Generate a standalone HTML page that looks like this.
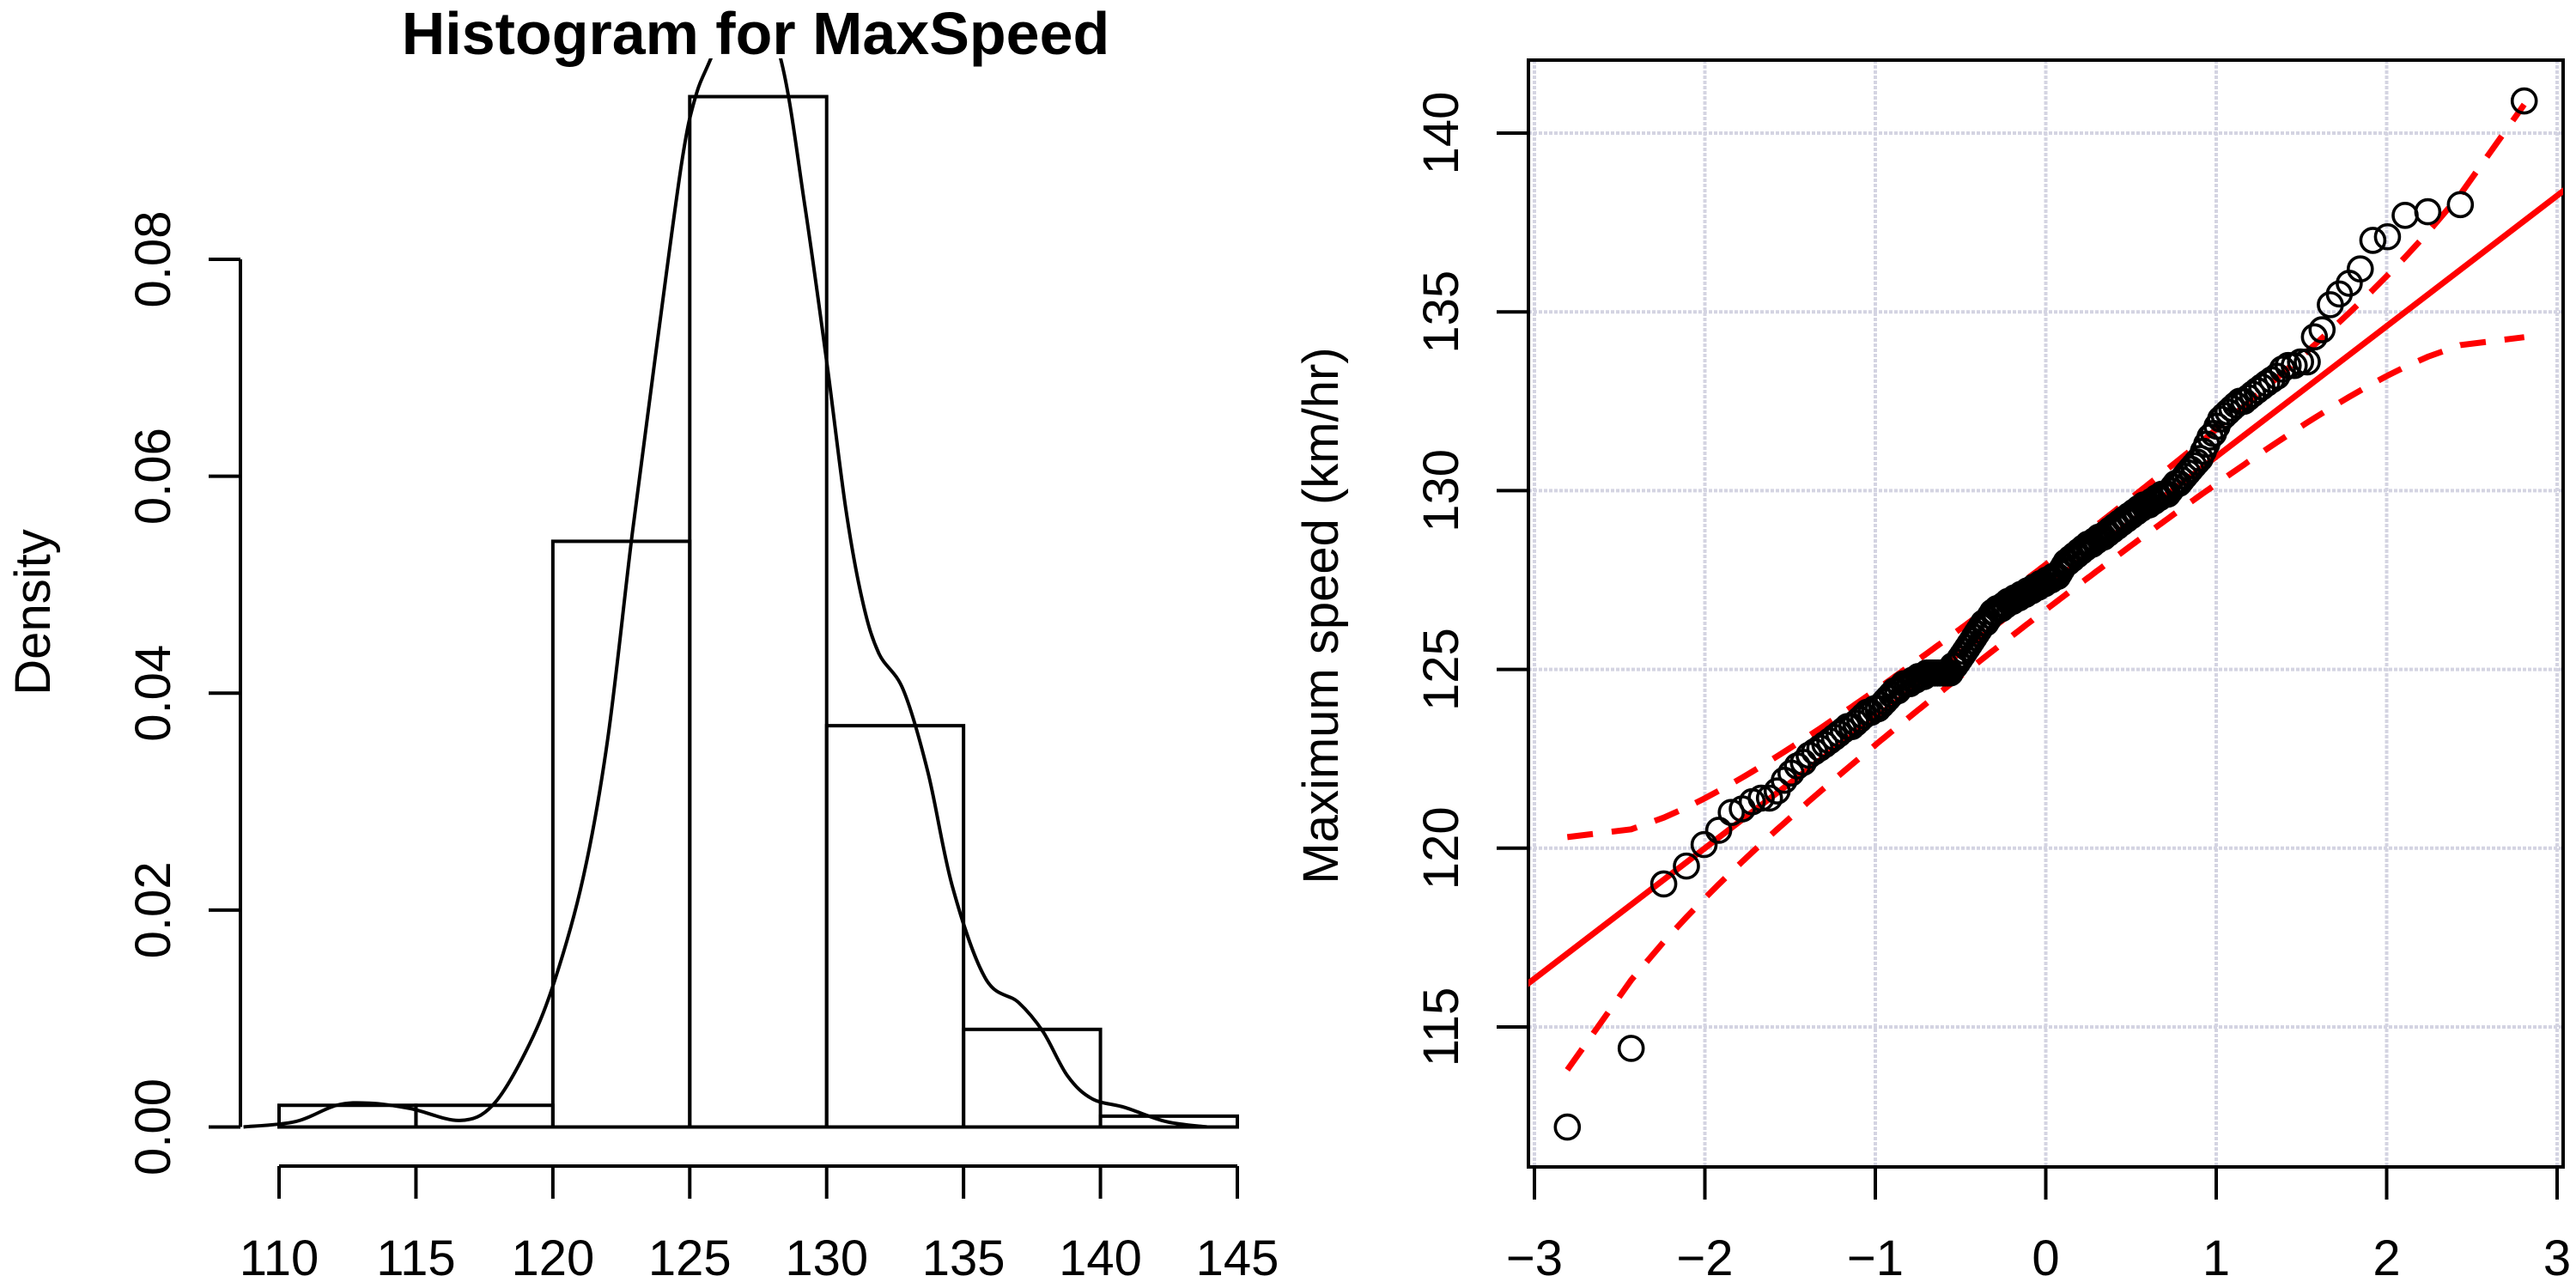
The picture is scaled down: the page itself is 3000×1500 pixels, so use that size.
<!DOCTYPE html>
<html><head><meta charset="utf-8"><style>
html,body{margin:0;padding:0;background:#fff;}
svg{display:block;font-family:"Liberation Sans",Arial,sans-serif;}
</style></head><body>
<svg id="chart" width="3000" height="1500" viewBox="0 0 3000 1500" xmlns="http://www.w3.org/2000/svg">
<defs>
<clipPath id="clipL"><rect x="280" y="68" width="1205" height="1291"/></clipPath>
<clipPath id="clipR"><rect x="1780" y="70" width="1205" height="1289"/></clipPath>
</defs>
<rect width="3000" height="1500" fill="#fff"/>
<g id="left"></g>
<g id="right"></g>
</svg>
<script>
// ---------- Histogram data ----------
const binEdges = [110,115,120,125,130,135,140,145];
const binDensity = [0.002,0.002,0.054,0.095,0.037,0.009,0.001];
const densX = [108.7,110.6,112.1,113.3,114.8,116.6,117.8,119.0,120.0,121.1,122.0,122.9,123.8,124.7,125.2,125.8,127.0,128.3,129.2,130.0,130.7,131.3,131.9,132.8,133.7,134.6,135.8,137.0,137.9,138.8,139.7,140.9,142.4,143.9];
const densY = [0,0.0005,0.002,0.0022,0.0017,0.0006,0.002,0.0069,0.013,0.0229,0.0357,0.0547,0.0721,0.0888,0.0949,0.0987,0.106,0.0987,0.085,0.0706,0.057,0.0486,0.0437,0.0403,0.0327,0.0221,0.0137,0.0115,0.0088,0.0047,0.0026,0.0018,0.0005,0];
const histXTicks = [110,115,120,125,130,135,140,145];
const histYTicks = [0,0.02,0.04,0.06,0.08];
const histYTickLabels = ["0.00","0.02","0.04","0.06","0.08"];

// ---------- QQ data (sorted max speeds, n=200) ----------
const speeds = [112.2,114.4,119.0,119.5,
120.1,120.5,121.0,121.1,121.3,121.4,121.4,121.6,121.9,122.1,122.3,122.4,122.6,122.7,122.8,122.9,123.0,123.1,123.2,123.3,123.4,123.4,123.5,123.6,123.7,123.8,123.8,123.9,123.9,124.0,124.1,124.2,124.3,124.4,124.4,124.5,124.6,124.6,124.6,124.7,124.7,124.8,124.8,124.8,124.9,124.9,124.9,124.9,124.9,124.9,124.9,124.9,124.9,124.9,
125.1,125.1,125.2,125.3,
125.4,125.5,125.6,125.7,125.8,125.9,126.0,
126.1,126.2,126.3,126.3,126.4,126.5,126.6,
126.6,126.7,126.7,126.7,126.8,126.8,126.9,126.9,
126.9,127.0,127.0,127.0,127.1,127.1,127.1,
127.2,127.2,127.2,127.3,127.3,127.3,127.4,127.4,
127.4,127.5,127.5,127.5,127.6,127.6,127.6,
127.7,127.8,127.9,128.0,128.0,128.1,128.1,128.2,
128.2,128.3,128.3,128.4,128.4,128.5,128.5,
128.5,128.6,128.6,128.7,128.7,128.7,128.8,128.8,
128.9,128.9,129.0,129.0,129.1,129.1,129.2,
129.2,129.3,129.3,129.4,129.4,129.5,129.5,129.6,
129.6,129.6,129.7,129.7,129.8,129.8,129.9,129.9,129.9,
130.0,130.1,130.2,130.2,130.3,130.4,130.5,130.6,130.7,130.8,130.9,131.1,131.3,131.5,131.6,131.8,132.0,132.1,132.2,132.3,132.4,132.5,132.5,132.6,132.7,132.8,132.9,133.0,133.1,133.2,133.4,133.5,133.5,133.6,133.6,134.3,134.5,
135.2,135.5,135.8,136.2,137.0,137.1,137.7,137.8,138.0,140.9];
const lineIntercept = 127.3;
const lineSlope = 3.65;
const qqXTicks = [-3,-2,-1,0,1,2,3];
const qqXTickLabels = ["\u22123","\u22122","\u22121","0","1","2","3"];
const qqYTicks = [115,120,125,130,135,140];

const NS = "http://www.w3.org/2000/svg";
function mk(parent, tag, attrs){ const e=document.createElementNS(NS,tag); for(const k in attrs) e.setAttribute(k,attrs[k]); parent.appendChild(e); return e; }
const FS = 58, LW = 4;

// ---------- Left panel ----------
const L = document.getElementById('left');
const hx = v => 325 + (v-110)*(1441-325)/35;
const hy = v => 1312.5 - v*(1312.5-302)/0.08;

const title = mk(L,'text',{x:880,y:63,'text-anchor':'middle','font-size':70,'font-weight':'bold',fill:'#000'});


title.textContent = 'Histogram for MaxSpeed';

for(let i=0;i<binDensity.length;i++){
  const r = mk(L,'rect',{x:hx(binEdges[i]),y:hy(binDensity[i]),width:hx(binEdges[i+1])-hx(binEdges[i]),height:hy(0)-hy(binDensity[i]),fill:'none',stroke:'#000','stroke-width':LW});
  
  
}
function smooth(xs, ys){ const P=xs.map((x,i)=>[hx(x),hy(ys[i])]); let d='M'+P[0][0]+','+P[0][1];
  for(let i=0;i<P.length-1;i++){const p0=P[Math.max(0,i-1)],p1=P[i],p2=P[i+1],p3=P[Math.min(P.length-1,i+2)];
    d+=' C'+(p1[0]+(p2[0]-p0[0])/6).toFixed(1)+','+(p1[1]+(p2[1]-p0[1])/6).toFixed(1)+' '+(p2[0]-(p3[0]-p1[0])/6).toFixed(1)+','+(p2[1]-(p3[1]-p1[1])/6).toFixed(1)+' '+p2[0].toFixed(1)+','+p2[1].toFixed(1);}
  return d;}
const dens = mk(L,'path',{d:smooth(densX,densY),fill:'none',stroke:'#000','stroke-width':LW,'clip-path':'url(#clipL)'});



const yax = mk(L,'g',{});


mk(yax,'line',{x1:280,x2:280,y1:hy(0),y2:hy(0.08),stroke:'#000','stroke-width':LW});
histYTicks.forEach((v,i)=>{
  mk(yax,'line',{x1:280,x2:243,y1:hy(v),y2:hy(v),stroke:'#000','stroke-width':LW});
  const t = mk(yax,'text',{x:0,y:0,transform:`translate(198,${hy(v)}) rotate(-90)`,'text-anchor':'middle','font-size':FS});
  
  
  t.textContent = histYTickLabels[i];
});
const dl = mk(L,'text',{x:0,y:0,transform:'translate(58,713) rotate(-90)','text-anchor':'middle','font-size':FS});


dl.textContent='Density';

const xax = mk(L,'g',{});


mk(xax,'line',{x1:hx(110),x2:hx(145),y1:1358,y2:1358,stroke:'#000','stroke-width':LW});
histXTicks.forEach(v=>{
  mk(xax,'line',{x1:hx(v),x2:hx(v),y1:1358,y2:1396,stroke:'#000','stroke-width':LW});
  const t = mk(xax,'text',{x:hx(v),y:1485,'text-anchor':'middle','font-size':FS});
  
  
  t.textContent = v;
});

// ---------- Right panel ----------
const R = document.getElementById('right');
const qx = v => 1787 + (v+3)*(2978-1787)/6;
const qy = v => 155 + (140-v)*(1196-155)/25;

function qnorm(p){
  const a=[-39.6968302866538,220.946098424521,-275.928510446969,138.357751867269,-30.6647980661472,2.50662827745924];
  const b=[-54.4760987982241,161.585836858041,-155.698979859887,66.8013118877197,-13.2806815528857];
  const c=[-0.00778489400243029,-0.322396458041136,-2.40075827716184,-2.54973253934373,4.37466414146497,2.93816398269878];
  const d=[0.00778469570904146,0.32246712907004,2.445134137143,3.75440866190742];
  let q,r;
  if(p<0.02425){q=Math.sqrt(-2*Math.log(p));return (((((c[0]*q+c[1])*q+c[2])*q+c[3])*q+c[4])*q+c[5])/((((d[0]*q+d[1])*q+d[2])*q+d[3])*q+1);}
  if(p>1-0.02425){q=Math.sqrt(-2*Math.log(1-p));return -(((((c[0]*q+c[1])*q+c[2])*q+c[3])*q+c[4])*q+c[5])/((((d[0]*q+d[1])*q+d[2])*q+d[3])*q+1);}
  q=p-0.5;r=q*q;return (((((a[0]*r+a[1])*r+a[2])*r+a[3])*r+a[4])*r+a[5])*q/(((((b[0]*r+b[1])*r+b[2])*r+b[3])*r+b[4])*r+1);
}
const n = speeds.length;
const sorted = speeds.slice().sort((a,b)=>a-b);
const zs = sorted.map((_,i)=>qnorm((i+0.5)/n));

const grid = mk(R,'g',{});


qqXTicks.forEach(v=>mk(grid,'line',{x1:qx(v),x2:qx(v),y1:70,y2:1359,stroke:'#d4d4e2','stroke-width':4,'stroke-dasharray':'4,2'}));
qqYTicks.forEach(v=>mk(grid,'line',{x1:1780,x2:2985,y1:qy(v),y2:qy(v),stroke:'#d4d4e2','stroke-width':4,'stroke-dasharray':'4,2'}));

const box = mk(R,'rect',{x:1780,y:70,width:1205,height:1289,fill:'none',stroke:'#000','stroke-width':LW});



const ref = mk(R,'line',{x1:qx(-3.05),y1:qy(lineIntercept+lineSlope*-3.05),x2:qx(3.05),y2:qy(lineIntercept+lineSlope*3.05),stroke:'#ff0000','stroke-width':7,'clip-path':'url(#clipR)'});



function dnorm(z){return Math.exp(-z*z/2)/Math.sqrt(2*Math.PI);}
let up='',lo='';
zs.forEach((z,i)=>{
  const p=(i+0.5)/n; const se=1.96*lineSlope/dnorm(z)*Math.sqrt(p*(1-p)/n); const fit=lineIntercept+lineSlope*z;
  up+=(i?'L':'M')+qx(z).toFixed(1)+','+qy(fit+se).toFixed(1)+' ';
  lo+=(i?'L':'M')+qx(z).toFixed(1)+','+qy(fit-se).toFixed(1)+' ';
});
const ub = mk(R,'path',{d:up,fill:'none',stroke:'#ff0000','stroke-width':7,'stroke-dasharray':'30,22','clip-path':'url(#clipR)'});


const lb = mk(R,'path',{d:lo,fill:'none',stroke:'#ff0000','stroke-width':7,'stroke-dasharray':'30,22','clip-path':'url(#clipR)'});



const pts = mk(R,'g',{});


sorted.forEach((v,i)=>{
  const c = mk(pts,'circle',{cx:qx(zs[i]),cy:qy(v),r:14,fill:'none',stroke:'#000','stroke-width':3.6});
  
  
});

const rx = mk(R,'g',{});


mk(rx,'line',{x1:qx(-3),x2:qx(3),y1:1359,y2:1359,stroke:'#000','stroke-width':LW});
qqXTicks.forEach((v,i)=>{
  mk(rx,'line',{x1:qx(v),x2:qx(v),y1:1359,y2:1397,stroke:'#000','stroke-width':LW});
  const t = mk(rx,'text',{x:qx(v),y:1485,'text-anchor':'middle','font-size':FS});
  
  
  t.textContent = qqXTickLabels[i];
});
const ry = mk(R,'g',{});


qqYTicks.forEach(v=>{
  mk(ry,'line',{x1:1780,x2:1743,y1:qy(v),y2:qy(v),stroke:'#000','stroke-width':LW});
  const t = mk(ry,'text',{x:0,y:0,transform:`translate(1698,${qy(v)}) rotate(-90)`,'text-anchor':'middle','font-size':FS});
  
  
  t.textContent = v;
});
const yt = mk(R,'text',{x:0,y:0,transform:'translate(1558,717) rotate(-90)','text-anchor':'middle','font-size':FS});


yt.textContent = 'Maximum speed (km/hr)';
</script>
</body></html>
